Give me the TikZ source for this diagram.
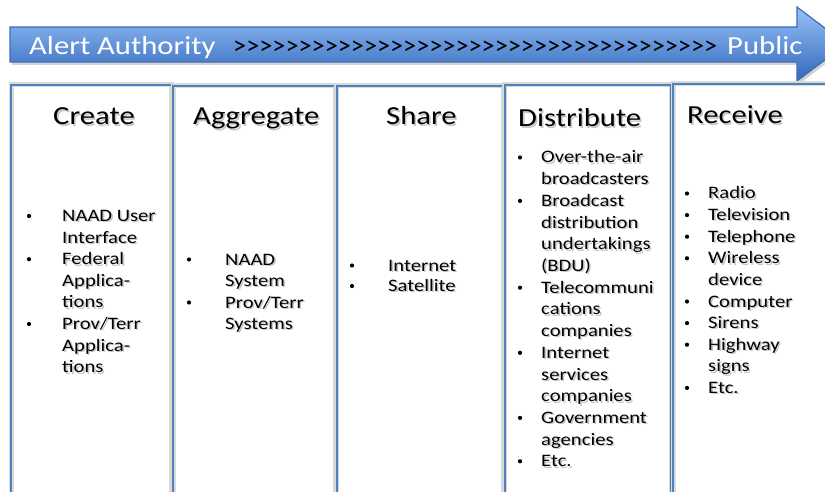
\documentclass[tikz,border=0pt]{standalone}
\usepackage{fontspec}
\setmainfont{Carlito}
\usepackage{graphicx}
\definecolor{boxblue}{HTML}{4F81BD}
\definecolor{arrtop}{HTML}{99C1F9}
\definecolor{arrbot}{HTML}{3168BB}
\definecolor{arredge}{HTML}{3D6DB5}
\newcommand\shd[1]{\leavevmode\rlap{\kern1.3pt\raisebox{-1.3pt}{\textcolor{black!22}{#1}}}#1}
\newcommand\chv{>\kern0pt}
\newcommand\chvten{\chv\chv\chv\chv\chv\chv\chv\chv\chv\chv}
\begin{document}
\begin{tikzpicture}[x=1pt,y=-1pt,
  titletxt/.style={anchor=base west,inner sep=0pt,xscale=1.18,font=\fontsize{26}{30}\selectfont},
  bodytxt/.style={anchor=base west,inner sep=0pt,xscale=1.18,font=\fontsize{17.5}{21}\selectfont},
  arrtxt/.style={anchor=base west,inner sep=0pt,xscale=1.18,font=\fontsize{26}{30}\selectfont,text=white},
  colbox/.style={draw=boxblue,line width=2pt,preaction={draw=black!15,line width=5pt}}]
\useasboundingbox (0,0) rectangle (825,492);
\clip (0,0) rectangle (825,492);
\fill[white] (0,0) rectangle (825,492);

% top arrow
\fill[black!18] (12,30) -- (799,30) -- (799,10) -- (848,47) -- (799,84) -- (799,65) -- (12,65) -- cycle;
\shade[top color=arrtop,bottom color=arrbot,draw=arredge,line width=1.2pt]
  (10,27) -- (797,27) -- (797,7) -- (846,44) -- (797,81) -- (797,62) -- (10,62) -- cycle;
\node[arrtxt] (alert) at (29,55) {Alert Authority};
\node[anchor=base west,inner sep=0pt,font=\fontsize{26}{30}\selectfont] (chev) at (233,55)
  {\resizebox{484pt}{\height}{\chvten\chvten\chvten\chv\chv\chv\chv\chv\chv\chv}};
\node[arrtxt] (public) at (727,55) {Public};

% column boxes
\draw[colbox] (11,85) rectangle (171.5,520);
\draw[colbox] (173,86) rectangle (335,520);
\draw[colbox] (336.5,86) rectangle (503,520);
\draw[colbox] (504.5,85) rectangle (671,520);
\draw[colbox] (673,84) rectangle (840,520);

% titles
\node[titletxt] (tcreate) at (53,125) {\shd{Create}};
\node[titletxt] (taggr) at (193,125) {\shd{Aggregate}};
\node[titletxt] (tshare) at (386,125) {\shd{Share}};
\node[titletxt] (tdist) at (518,127) {\shd{Distribute}};
\node[titletxt] (trecv) at (687,124) {\shd{Receive}};

% Create
\foreach \t [count=\i] in {NAAD User,Interface,Federal,Applica-,tions,Prov/Terr,Applica-,tions}
  \node[bodytxt] (cr\i) at (62,{221.5+(\i-1)*21.6}) {\shd{\t}};
\foreach \i in {1,3,6}
  \fill (29,{221.5+(\i-1)*21.6-5.5}) circle (2.1);

% Aggregate
\foreach \t [count=\i] in {NAAD,System,Prov/Terr,Systems}
  \node[bodytxt] (ag\i) at (225,{265+(\i-1)*21.5}) {\shd{\t}};
\foreach \i in {1,3}
  \fill (189,{265+(\i-1)*21.5-5.5}) circle (2.1);

% Share
\foreach \t [count=\i] in {Internet,Satellite}
  \node[bodytxt] (sh\i) at (388,{271+(\i-1)*20.5}) {\shd{\t}};
\foreach \i in {1,2}
  \fill (352,{271+(\i-1)*20.5-5.5}) circle (2.1);

% Distribute
\foreach \t [count=\i] in {Over-the-air,broadcasters,Broadcast,distribution,undertakings,{(BDU)},Telecommuni,cations,companies,Internet,services,companies,Government,agencies,Etc.}
  \node[bodytxt] (di\i) at (541,{163+(\i-1)*21.7}) {\shd{\t}};
\foreach \i in {1,3,7,10,13,15}
  \fill (520,{163+(\i-1)*21.7-5.5}) circle (2.1);

% Receive
\foreach \t [count=\i] in {Radio,Television,Telephone,Wireless,device,Computer,Sirens,Highway,signs,Etc.}
  \node[bodytxt] (re\i) at (708,{199+(\i-1)*21.6}) {\shd{\t}};
\foreach \i in {1,2,3,4,6,7,8,10}
  \fill (687,{199+(\i-1)*21.6-5.5}) circle (2.1);
\end{tikzpicture}
\end{document}
